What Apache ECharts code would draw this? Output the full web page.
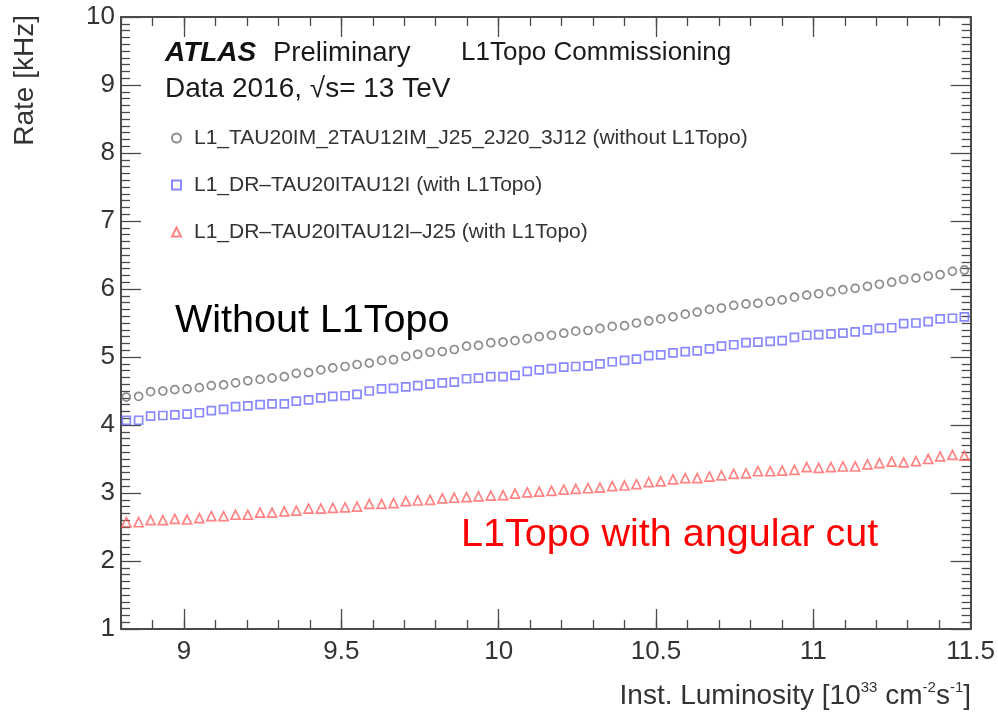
<!DOCTYPE html>
<html>
<head>
<meta charset="utf-8">
<script src="https://cdn.jsdelivr.net/npm/echarts@6/dist/echarts.min.js"></script>
<style>
html,body{margin:0;padding:0;background:#fff;}
#c{width:998px;height:716px;}
</style>
</head>
<body>
<div id="c"></div>
<script>
// Instantaneous luminosity [10^33 cm^-2 s^-1]
const xLum = [
  8.817, 8.856, 8.894, 8.933, 8.971, 9.010, 9.049, 9.087, 9.126, 9.164,
  9.203, 9.242, 9.280, 9.319, 9.357, 9.396, 9.435, 9.473, 9.512, 9.550,
  9.589, 9.628, 9.666, 9.705, 9.743, 9.782, 9.821, 9.859, 9.898, 9.936,
  9.975, 10.014, 10.052, 10.091, 10.129, 10.168, 10.207, 10.245, 10.284, 10.322,
  10.361, 10.400, 10.438, 10.477, 10.515, 10.554, 10.593, 10.631, 10.670, 10.708,
  10.747, 10.786, 10.824, 10.863, 10.901, 10.940, 10.979, 11.017, 11.056, 11.094,
  11.133, 11.172, 11.210, 11.249, 11.287, 11.326, 11.365, 11.403, 11.442, 11.480
];
// L1_TAU20IM_2TAU12IM_J25_2J20_3J12 (without L1Topo) rate [kHz]
const rateWithout = [
  4.41, 4.42, 4.49, 4.50, 4.52, 4.53, 4.55, 4.58, 4.59, 4.62,
  4.65, 4.67, 4.69, 4.71, 4.76, 4.77, 4.81, 4.84, 4.86, 4.89,
  4.91, 4.95, 4.96, 5.01, 5.04, 5.07, 5.08, 5.11, 5.16, 5.17,
  5.21, 5.22, 5.24, 5.27, 5.30, 5.32, 5.35, 5.38, 5.39, 5.42,
  5.45, 5.46, 5.50, 5.53, 5.56, 5.59, 5.63, 5.66, 5.70, 5.72,
  5.76, 5.78, 5.79, 5.82, 5.84, 5.88, 5.91, 5.93, 5.96, 5.99,
  6.01, 6.04, 6.07, 6.10, 6.14, 6.16, 6.19, 6.21, 6.26, 6.28
];
// L1_DR-TAU20ITAU12I (with L1Topo) rate [kHz]
const rateDR = [
  4.07, 4.07, 4.13, 4.14, 4.15, 4.16, 4.18, 4.21, 4.23, 4.27,
  4.28, 4.30, 4.31, 4.31, 4.35, 4.37, 4.40, 4.42, 4.43, 4.45,
  4.50, 4.53, 4.54, 4.56, 4.58, 4.60, 4.62, 4.63, 4.68, 4.69,
  4.71, 4.71, 4.73, 4.79, 4.81, 4.83, 4.85, 4.86, 4.87, 4.90,
  4.93, 4.95, 4.97, 5.02, 5.03, 5.06, 5.08, 5.09, 5.12, 5.16,
  5.18, 5.21, 5.22, 5.23, 5.24, 5.29, 5.32, 5.33, 5.34, 5.35,
  5.37, 5.40, 5.42, 5.43, 5.49, 5.50, 5.52, 5.56, 5.57, 5.59
];
// L1_DR-TAU20ITAU12I-J25 (with L1Topo) rate [kHz]
const rateDRJ25 = [
  2.57, 2.57, 2.60, 2.60, 2.62, 2.61, 2.63, 2.66, 2.66, 2.68,
  2.68, 2.71, 2.71, 2.73, 2.74, 2.77, 2.77, 2.78, 2.79, 2.80,
  2.84, 2.84, 2.85, 2.88, 2.89, 2.90, 2.92, 2.93, 2.94, 2.95,
  2.96, 2.97, 2.99, 3.01, 3.02, 3.03, 3.05, 3.06, 3.07, 3.08,
  3.10, 3.11, 3.13, 3.16, 3.17, 3.20, 3.22, 3.22, 3.24, 3.26,
  3.28, 3.29, 3.32, 3.32, 3.33, 3.34, 3.38, 3.37, 3.38, 3.39,
  3.39, 3.42, 3.44, 3.46, 3.45, 3.47, 3.50, 3.54, 3.56, 3.55
];
const seriesNames = [
  'L1_TAU20IM_2TAU12IM_J25_2J20_3J12 (without L1Topo)',
  'L1_DR\u2013TAU20ITAU12I (with L1Topo)',
  'L1_DR\u2013TAU20ITAU12I\u2013J25 (with L1Topo)'
];
const xLabelValues = [9, 9.5, 10, 10.5, 11, 11.5];
const xMajorTicks = [9, 9.5, 10, 10.5, 11];
const yLabelValues = [1, 2, 3, 4, 5, 6, 7, 8, 9, 10];

const FONT = '"Liberation Sans", Arial, Helvetica, sans-serif';
const AX = '#4a4a4a';

const chart = echarts.init(document.getElementById('c'), null, {renderer: 'canvas'});

function pairs(ys) { return xLum.map((x, i) => [x, ys[i]]); }

const xBase = {
  type: 'value', min: 8.8, max: 11.5, gridIndex: 0,
  splitLine: {show: false}
};
const yBase = {
  type: 'value', min: 1, max: 10, interval: 1, gridIndex: 0,
  splitLine: {show: false}
};

const option = {
  animation: false,
  backgroundColor: '#fff',
  textStyle: {fontFamily: FONT},
  grid: {left: 121, right: 27, top: 17, bottom: 87, containLabel: false},
  xAxis: [
    // bottom: minor ticks + frame line
    Object.assign({}, xBase, {
      position: 'bottom', interval: 0.1,
      axisLine: {show: true, lineStyle: {color: AX, width: 2}},
      axisTick: {show: true, inside: true, length: 9, lineStyle: {color: AX, width: 1.3}},
      axisLabel: {show: false}
    }),
    // bottom: major ticks + labels
    Object.assign({}, xBase, {
      position: 'bottom',
      axisLine: {show: false},
      axisTick: {show: true, inside: true, length: 20, customValues: xMajorTicks, lineStyle: {color: AX, width: 1.3}},
      axisLabel: {show: true, customValues: xLabelValues, margin: 10, fontSize: 26, color: '#333', fontFamily: FONT,
        formatter: v => String(v)}
    }),
    // top mirror: minor
    Object.assign({}, xBase, {
      position: 'top', interval: 0.1,
      axisLine: {show: true, lineStyle: {color: AX, width: 2}},
      axisTick: {show: true, inside: true, length: 9, lineStyle: {color: AX, width: 1.3}},
      axisLabel: {show: false}
    }),
    // top mirror: major
    Object.assign({}, xBase, {
      position: 'top',
      axisLine: {show: false},
      axisTick: {show: true, inside: true, length: 20, customValues: xMajorTicks, lineStyle: {color: AX, width: 1.3}},
      axisLabel: {show: false}
    })
  ],
  yAxis: [
    Object.assign({}, yBase, {
      position: 'left',
      axisLine: {show: true, lineStyle: {color: AX, width: 2}},
      axisTick: {show: true, inside: true, length: 20, lineStyle: {color: AX, width: 1.3}},
      minorTick: {show: true, splitNumber: 10, length: 9, lineStyle: {color: AX, width: 1.3}},
      axisLabel: {show: true, margin: 6, fontSize: 26, color: '#333', fontFamily: FONT,
        customValues: yLabelValues, formatter: v => String(v)}
    }),
    Object.assign({}, yBase, {
      position: 'right',
      axisLine: {show: true, lineStyle: {color: AX, width: 2}},
      axisTick: {show: true, inside: true, length: 20, lineStyle: {color: AX, width: 1.3}},
      minorTick: {show: true, splitNumber: 10, length: 9, lineStyle: {color: AX, width: 1.3}},
      axisLabel: {show: false}
    })
  ],
  legend: {
    orient: 'vertical', left: 166, top: 121,
    itemWidth: 9, itemHeight: 9, itemGap: 23,
    selectedMode: false,
    textStyle: {fontSize: 21, color: '#333', fontFamily: FONT, lineHeight: 24, padding: [0, 0, 0, 8]},
    data: seriesNames
  },
  series: [
    {
      name: seriesNames[0], type: 'scatter', xAxisIndex: 0, yAxisIndex: 0,
      data: pairs(rateWithout), symbol: 'circle', symbolSize: 8,
      itemStyle: {color: 'rgba(0,0,0,0)', borderColor: '#707070', borderWidth: 1.7},
      emphasis: {disabled: true}
    },
    {
      name: seriesNames[1], type: 'scatter', xAxisIndex: 0, yAxisIndex: 0,
      data: pairs(rateDR), symbol: 'rect', symbolSize: 8,
      itemStyle: {color: 'rgba(0,0,0,0)', borderColor: '#6a6aff', borderWidth: 1.7},
      emphasis: {disabled: true}
    },
    {
      name: seriesNames[2], type: 'scatter', xAxisIndex: 0, yAxisIndex: 0,
      data: pairs(rateDRJ25), symbol: 'triangle', symbolSize: 9,
      itemStyle: {color: 'rgba(0,0,0,0)', borderColor: '#ff6464', borderWidth: 1.7},
      emphasis: {disabled: true}
    }
  ],
  graphic: [
    {type: 'text', x: 165, y: 53, silent: true,
      style: {text: 'ATLAS', font: 'italic bold 28px ' + FONT, fill: '#111', textVerticalAlign: 'middle', verticalAlign: 'middle'}},
    {type: 'text', x: 273, y: 53, silent: true,
      style: {text: 'Preliminary', font: '27.5px ' + FONT, fill: '#1a1a1a', textVerticalAlign: 'middle', verticalAlign: 'middle'}},
    {type: 'text', x: 461, y: 53, silent: true,
      style: {text: 'L1Topo Commissioning', font: '26px ' + FONT, fill: '#1a1a1a', textVerticalAlign: 'middle', verticalAlign: 'middle'}},
    {type: 'text', x: 165, y: 89, silent: true,
      style: {text: 'Data 2016, \u221As= 13 TeV', font: '28px ' + FONT, fill: '#1a1a1a', textVerticalAlign: 'middle', verticalAlign: 'middle'}},
    {type: 'text', x: 175, y: 321, silent: true,
      style: {text: 'Without L1Topo', font: '39.5px ' + FONT, fill: '#000', textVerticalAlign: 'middle', verticalAlign: 'middle'}},
    {type: 'text', x: 461, y: 535, silent: true,
      style: {text: 'L1Topo with angular cut', font: '39.5px ' + FONT, fill: '#ff0000', textVerticalAlign: 'middle', verticalAlign: 'middle'}},
    {type: 'text', x: 971, y: 696, silent: true,
      style: {
        text: '{a|Inst. Luminosity [10}{s|33}{a| cm}{s|-2}{a|s}{s|-1}{a|]}',
        textAlign: 'right', align: 'right', textVerticalAlign: 'middle', verticalAlign: 'middle',
        fill: '#333',
        rich: {
          a: {fontSize: 28, fontFamily: FONT, fill: '#333', color: '#333', lineHeight: 32},
          s: {fontSize: 15, fontFamily: FONT, fill: '#333', color: '#333', lineHeight: 16, verticalAlign: 'top'}
        }
      }},
    {type: 'text', x: 25, y: 15, rotation: Math.PI / 2, silent: true,
      style: {text: 'Rate [kHz]', font: '28px ' + FONT, fill: '#333',
        textAlign: 'right', align: 'right', textVerticalAlign: 'middle', verticalAlign: 'middle'}}
  ]
};

chart.setOption(option);
</script>
</body>
</html>
